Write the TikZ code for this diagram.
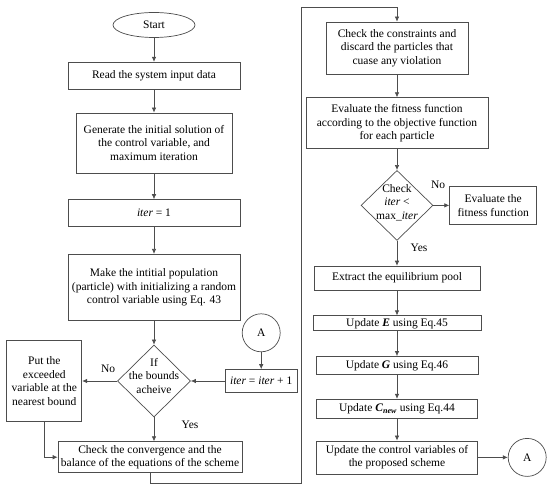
\documentclass[tikz,border=0pt]{standalone}
\usepackage{fontspec}
\setmainfont{Liberation Serif}
\usepackage{tikz}
\usetikzlibrary{arrows.meta,positioning,shapes.geometric}
\definecolor{FlowLine}{HTML}{4D4D4D}

\begin{document}
\begin{tikzpicture}[
  box/.style={draw=FlowLine,line width=0.7pt,fill=white,align=center,inner sep=2pt,font=\fontsize{11.5}{13.5}\selectfont},
  term/.style={box,ellipse,minimum width=82pt,minimum height=25pt},
  decision/.style={draw=FlowLine,line width=0.7pt,diamond,inner sep=0pt},
  connector/.style={box,circle,minimum size=38pt},
  tag/.style={font=\fontsize{11.5}{13.5}\selectfont},
  edge/.style={-{Latex[length=5pt,width=4.5pt]},draw=FlowLine,line width=0.7pt}
]
\useasboundingbox (0pt,0pt) rectangle (550pt,-484pt);
% left column
\node[term] (start) at (154pt,-25pt) {Start};
\node[box,below=24pt of start,minimum width=172pt,minimum height=27pt] (read) {Read the system input data};
\node[box,below=23pt of read,minimum width=156pt,minimum height=60pt] (generate) {Generate the initial solution of\\the control variable, and\\maximum iteration};
\node[box,below=26pt of generate,minimum width=172pt,minimum height=27pt] (iterone) {\textit{iter} = 1};
\node[box,below=27pt of iterone,minimum width=172pt,minimum height=66pt] (population) {Make the intitial population\\(particle) with initializing a random\\control variable using Eq. 43};
\node[decision,below=24pt of population,minimum width=73pt,minimum height=72pt,
  label={[tag,align=center,yshift=5pt]center:If\\the bounds\\acheive}] (bounds) {};
\node[box,below=24pt of bounds,xshift=-4pt,minimum width=184pt,minimum height=31pt,inner xsep=1pt] (converge) {Check the convergence and the\\balance of the equations of the scheme};
\node[box,left=35pt of bounds,minimum width=75pt,minimum height=81pt] (nearest) {Put the\\exceeded\\variable at the\\nearest bound};
\node[box,right=34pt of bounds,minimum width=72pt,minimum height=23pt] (iterinc) {\textit{iter} = \textit{iter} + 1};
\node[connector,above=17pt of iterinc] (joinin) {A};
% right column
\node[box,minimum width=142pt,minimum height=52pt] (constraints) at (397pt,-48pt) {Check the constraints and\\discard the particles that\\cuase any violation};
\node[box,below=23pt of constraints,minimum width=182pt,minimum height=51pt] (fitness) {Evaluate the fitness function\\according to the objective function\\for each particle};
\node[decision,below=21pt of fitness,minimum width=72pt,minimum height=70pt,
  label={[tag,align=center,yshift=3pt]center:Check\\\textit{iter} <\\max\_\textit{iter}}] (maxiter) {};
\node[box,right=16pt of maxiter,minimum width=87pt,minimum height=38pt] (evalfit) {Evaluate the\\fitness function};
\node[box,below=25pt of maxiter,minimum width=166pt,minimum height=24pt] (pool) {Extract the equilibrium pool};
\node[box,below=25pt of pool,minimum width=168pt,minimum height=15pt] (updE) {Update \textbf{\textit{E}} using Eq.45};
\node[box,below=25pt of updE,minimum width=162pt,minimum height=18pt] (updG) {Update \textbf{\textit{G}} using Eq.46};
\node[box,below=24pt of updG,minimum width=161pt,minimum height=19pt] (updC) {Update \textbf{\textit{C}}\textsubscript{\textbf{\textit{new}}} using Eq.44};
\node[box,below=22pt of updC,minimum width=161pt,minimum height=33pt] (controls) {Update the control variables of\\the proposed scheme};
\node[connector,right=30pt of controls] (joinout) {A};
% connectors
\draw[edge] (start) -- (read);
\draw[edge] (read) -- (generate);
\draw[edge] (generate) -- (iterone);
\draw[edge] (iterone) -- (population);
\draw[edge] (population) -- (bounds);
\draw[edge] (bounds.west) -- node[tag,pos=0.26,above=5pt]{No} (nearest.east);
\draw[edge] (bounds.south) -- node[tag,pos=0.3,right=24pt]{Yes} (bounds.south |- converge.north);
\draw[edge] (nearest.south) |- (converge.west);
\draw[edge] (joinin) -- (iterinc);
\draw[edge] (iterinc.west) -- (bounds.east);
\coordinate (loopbot) at ([yshift=-10pt]converge.south);
\coordinate (looptop) at ([yshift=14pt]constraints.north);
\coordinate (loopx) at (301pt,0pt);
\draw[edge] (converge.south) -- (loopbot) -- (loopbot -| loopx)
  -- (looptop -| loopx) -- (looptop) -- (constraints.north);
\draw[edge] (constraints) -- (fitness);
\draw[edge] (fitness) -- (maxiter);
\draw[edge] (maxiter.east) -- node[tag,pos=0.3,above=13pt]{No} (evalfit.west);
\draw[edge] (maxiter.south) -- node[tag,pos=0.3,right=10pt]{Yes} (pool.north);
\draw[edge] (pool) -- (updE);
\draw[edge] (updE) -- (updG);
\draw[edge] (updG) -- (updC);
\draw[edge] (updC) -- (controls);
\draw[edge] (controls) -- (joinout);
\end{tikzpicture}
\end{document}
